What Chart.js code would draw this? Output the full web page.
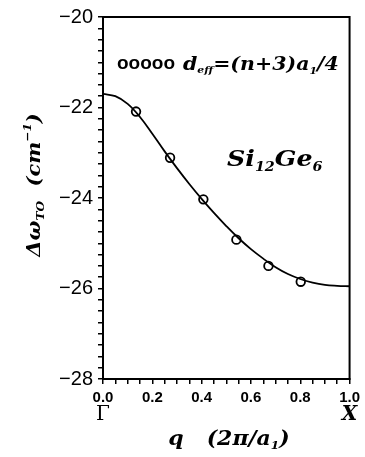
<!DOCTYPE html>
<html>
<head>
<meta charset="utf-8">
<script src="https://cdn.jsdelivr.net/npm/chart.js@4.4.1/dist/chart.umd.min.js"></script>
<style>
  html, body { margin: 0; padding: 0; background: #fff; }
  #wrap { width: 365px; height: 457px; }
</style>
</head>
<body>
<div id="wrap"><canvas id="chart" width="365" height="457"></canvas></div>
<script>
// fitted curve, q in units of 2pi/a1
const curveQ = [0, 0.05, 0.1, 0.15, 0.2, 0.25, 0.3, 0.35, 0.4, 0.45, 0.5,
                0.55, 0.6, 0.65, 0.7, 0.75, 0.8, 0.85, 0.9, 0.95, 1.0];
const curveShift = [-21.70, -21.75, -21.92, -22.21, -22.58, -22.97, -23.34, -23.69, -24.02, -24.33, -24.62,
                    -24.89, -25.13, -25.34, -25.53, -25.68, -25.79, -25.87, -25.92, -25.94, -25.95];
// open circles, d_eff = (n+3)a1/4
const pointQ = [0.134, 0.272, 0.407, 0.541, 0.671, 0.802];
const pointShift = [-22.09, -23.11, -24.03, -24.92, -25.50, -25.85];

const xMin = 0, xMax = 1.0, xStep = 0.05;
const yMin = -28, yMax = -20, yStep = 0.25;

const SERIF = '"DejaVu Serif", "Liberation Serif", serif';
const SANS = '"Liberation Sans", Arial, sans-serif';

function toXY(xs, ys) {
  return xs.map((x, i) => ({ x: x, y: ys[i] }));
}

// text pieces with their own font and baseline offset
function richWidth(ctx, parts) {
  let w = 0;
  for (const p of parts) {
    ctx.font = p.f;
    w += ctx.measureText(p.t).width;
  }
  return w;
}
// sx stretches the run horizontally (the print font is wider than ours)
function drawRich(ctx, x, y, parts, sx) {
  sx = sx || 1;
  ctx.save();
  ctx.translate(x, y);
  ctx.scale(sx, 1);
  let cx = 0;
  for (const p of parts) {
    ctx.font = p.f;
    ctx.fillText(p.t, cx, p.dy || 0);
    cx += ctx.measureText(p.t).width;
  }
  ctx.restore();
  return x + cx * sx;
}

const bi = (s) => `italic bold ${s}px ${SERIF}`;

const decorations = {
  id: 'decorations',
  afterDraw(chart) {
    const ctx = chart.ctx;
    const a = chart.chartArea;
    ctx.save();
    // frame
    ctx.strokeStyle = '#000';
    ctx.lineWidth = 2;
    ctx.strokeRect(a.left, a.top, a.right - a.left, a.bottom - a.top);

    ctx.fillStyle = '#000';
    ctx.textBaseline = 'alphabetic';
    ctx.textAlign = 'left';

    // legend text
    ctx.font = `bold 19px ${SANS}`;
    ctx.fillText('ooooo', 117, 69);
    drawRich(ctx, 183, 70, [
      { t: 'd', f: bi(19) },
      { t: 'eff', f: bi(10), dy: 3 },
      { t: '=(n+3)a', f: bi(19) },
      { t: '1', f: bi(10), dy: 4 },
      { t: '/4', f: bi(19) }
    ], 1.08);

    // sample label
    drawRich(ctx, 227, 166, [
      { t: 'Si', f: bi(23) },
      { t: '12', f: bi(13), dy: 5 },
      { t: 'Ge', f: bi(23) },
      { t: '6', f: bi(13), dy: 5 }
    ], 1.1);

    // symmetry points
    const xs = chart.scales.x;
    ctx.textAlign = 'center';
    ctx.font = `20px ${SERIF}`;
    ctx.fillText('\u0393', xs.getPixelForValue(0), 420);
    ctx.font = bi(20);
    ctx.fillText('X', xs.getPixelForValue(1), 420);

    // x title
    ctx.textAlign = 'left';
    const xt = [
      { t: 'q   (2\u03c0/a', f: bi(20) },
      { t: '1', f: bi(11), dy: 4 },
      { t: ')', f: bi(20) }
    ];
    const xsx = 1.1;
    const xw = richWidth(ctx, xt) * xsx;
    drawRich(ctx, 229 - xw / 2, 445, xt, xsx);

    // y title
    const yt = [
      { t: '\u0394\u03c9', f: bi(19) },
      { t: 'TO', f: bi(11), dy: 4 },
      { t: '  (cm', f: bi(19) },
      { t: '\u22121', f: bi(11), dy: -9 },
      { t: ')', f: bi(19) }
    ];
    const ysx = 1.1;
    const yw = richWidth(ctx, yt) * ysx;
    ctx.translate(40, 185);
    ctx.rotate(-Math.PI / 2);
    drawRich(ctx, -yw / 2, 0, yt, ysx);
    ctx.restore();
  }
};

new Chart(document.getElementById('chart'), {
  type: 'scatter',
  data: {
    datasets: [
      {
        label: 'fit',
        data: toXY(curveQ, curveShift),
        showLine: true,
        borderColor: '#000',
        borderWidth: 1.8,
        pointRadius: 0,
        tension: 0.4,
        fill: false
      },
      {
        label: 'd_eff=(n+3)a1/4',
        data: toXY(pointQ, pointShift),
        showLine: false,
        pointStyle: 'circle',
        pointRadius: 4.3,
        pointBorderWidth: 1.8,
        pointBorderColor: '#000',
        pointBackgroundColor: '#fff'
      }
    ]
  },
  options: {
    responsive: false,
    animation: false,
    layout: { padding: { left: 0, right: 13, top: 13, bottom: 0 } },
    plugins: {
      legend: { display: false },
      tooltip: { enabled: false }
    },
    scales: {
      x: {
        type: 'linear',
        min: xMin,
        max: xMax,
        afterFit: (s) => { s.height = 78; },
        border: { display: true, color: '#000', width: 2 },
        grid: { display: true, drawOnChartArea: false, drawTicks: true, tickLength: 5, color: '#000', lineWidth: 1.5 },
        ticks: {
          stepSize: xStep,
          autoSkip: false,
          maxRotation: 0,
          padding: 5,
          color: '#000',
          font: { family: SANS, size: 15, weight: 'bold' },
          callback: (v) => {
            const k = Math.round(v * 10);
            if (Math.abs(v * 10 - k) > 1e-6 || k % 2 !== 0) return '';
            return v.toFixed(1);
          }
        }
      },
      y: {
        type: 'linear',
        min: yMin,
        max: yMax,
        afterFit: (s) => { s.width = 103; },
        border: { display: true, color: '#000', width: 2 },
        grid: { display: true, drawOnChartArea: false, drawTicks: true, tickLength: 5, color: '#000', lineWidth: 1.5 },
        ticks: {
          stepSize: yStep,
          autoSkip: false,
          padding: 5,
          color: '#000',
          font: { family: SANS, size: 20 },
          callback: (v) => {
            const k = Math.round(v);
            if (Math.abs(v - k) > 1e-6 || k % 2 !== 0) return '';
            return '\u2212' + Math.abs(k);
          }
        }
      }
    }
  },
  plugins: [decorations]
});
</script>
</body>
</html>
